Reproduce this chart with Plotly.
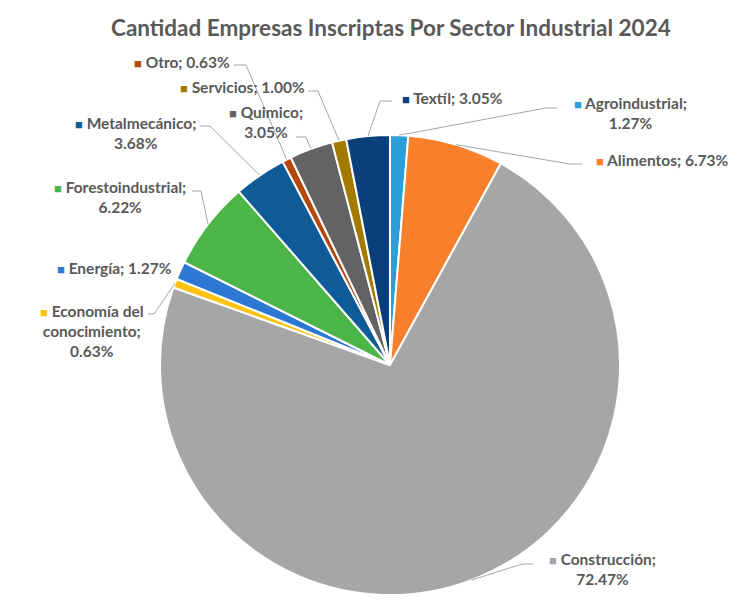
import math
import plotly.graph_objects as go

# ---- data ----
sectors = ["Agroindustrial", "Alimentos", "Construcción", "Economía del conocimiento",
           "Energía", "Forestoindustrial", "Metalmecánico", "Otro", "Quimico",
           "Servicios", "Textíl"]
percents = [1.27, 6.73, 72.47, 0.63, 1.27, 6.22, 3.68, 0.63, 3.05, 1.00, 3.05]
colors = ["#2A9FDA", "#F8802C", "#A6A6A6", "#FFC20E", "#2C78D2", "#4BB548",
          "#0E5B98", "#B5490D", "#636363", "#A37A00", "#0B3F7B"]
title_text = "Cantidad Empresas Inscriptas Por Sector Industrial 2024"

# label layout (pixel positions of label centre, line breaks, leader start/elbow)
label_lines = {
    "Agroindustrial": ["Agroindustrial;", "1.27%"],
    "Alimentos": ["Alimentos; 6.73%"],
    "Construcción": ["Construcción;", "72.47%"],
    "Economía del conocimiento": ["Economía del", "conocimiento;", "0.63%"],
    "Energía": ["Energía; 1.27%"],
    "Forestoindustrial": ["Forestoindustrial;", "6.22%"],
    "Metalmecánico": ["Metalmecánico;", "3.68%"],
    "Otro": ["Otro; 0.63%"],
    "Quimico": ["Quimico;", "3.05%"],
    "Servicios": ["Servicios; 1.00%"],
    "Textíl": ["Textíl; 3.05%"],
}
label_pos = {
    "Agroindustrial": (630, 113),
    "Alimentos": (662, 160),
    "Construcción": (602, 569),
    "Economía del conocimiento": (92, 331),
    "Energía": (114, 268),
    "Forestoindustrial": (120, 197),
    "Metalmecánico": (135, 133),
    "Otro": (182, 62),
    "Quimico": (266, 122),
    "Servicios": (243, 87),
    "Textíl": (452, 98),
}
leader = {  # (start, elbow) in pixels
    "Agroindustrial": ((557, 108), (546, 108)),
    "Alimentos": ((582, 164), (570, 164)),
    "Construcción": ((533, 564), (522, 564)),
    "Economía del conocimiento": ((148, 314), (154, 314)),
    "Forestoindustrial": ((192, 191), (201, 191)),
    "Metalmecánico": ((200, 126), (210, 126)),
    "Otro": ((234, 65), (246, 65)),
    "Quimico": ((296, 137), (306, 137)),
    "Servicios": ((308, 91), (318, 91)),
    "Textíl": ((392, 101), (380, 101)),
}

OFF = 8                      # page body margin
W, H = 756 - 2 * OFF, 608 - 2 * OFF
CX, CY, R = 390, 365, 230


def px(x):
    return (x - OFF) / W


def py(y):
    return 1 - (y - OFF) / H


fig = go.Figure(go.Pie(
    labels=sectors, values=percents, sort=False, direction="clockwise", rotation=0,
    marker=dict(colors=colors, line=dict(color="white", width=2)),
    textinfo="none", hoverinfo="label+percent", showlegend=False,
    domain=dict(x=[px(CX - R), px(CX + R)], y=[py(CY + R), py(CY - R)]),
))

font_fam = "Lato, 'Open Sans', sans-serif"
txt_col = "#595959"
annotations = [dict(text="<b>" + title_text + "</b>", x=px(391), y=py(27), xref="paper", yref="paper",
                    showarrow=False, font=dict(family=font_fam, size=22.5, color=txt_col),
                    xanchor="center", yanchor="middle")]
shapes = []
total = sum(percents)
cum = 0.0
for name, val, col in zip(sectors, percents, colors):
    mid = (cum + val / 2) / total * 2 * math.pi
    cum += val
    lines = label_lines[name]
    first = f"<span style='font-size:13px;color:{col}'>■</span> " + lines[0]
    text = "<br>".join([first] + lines[1:])
    lx, ly = label_pos[name]
    annotations.append(dict(text="<b>" + text + "</b>", x=px(lx), y=py(ly), xref="paper", yref="paper",
                            showarrow=False, align="center", xanchor="center", yanchor="middle",
                            font=dict(family=font_fam, size=15.5, color=txt_col)))
    if name in leader:
        (sx, sy), (ex, ey) = leader[name]
        tx = CX + R * math.sin(mid)
        ty = CY - R * math.cos(mid)
        path = f"M {px(sx)},{py(sy)} L {px(ex)},{py(ey)} L {px(tx)},{py(ty)}"
        shapes.append(dict(type="path", path=path, xref="paper", yref="paper",
                           line=dict(color="#A6A6A6", width=1)))

fig.update_layout(
    width=W, height=H, margin=dict(l=0, r=0, t=0, b=0),
    paper_bgcolor="white", plot_bgcolor="white",
    annotations=annotations, shapes=shapes,
)
fig.write_html("out.html")
